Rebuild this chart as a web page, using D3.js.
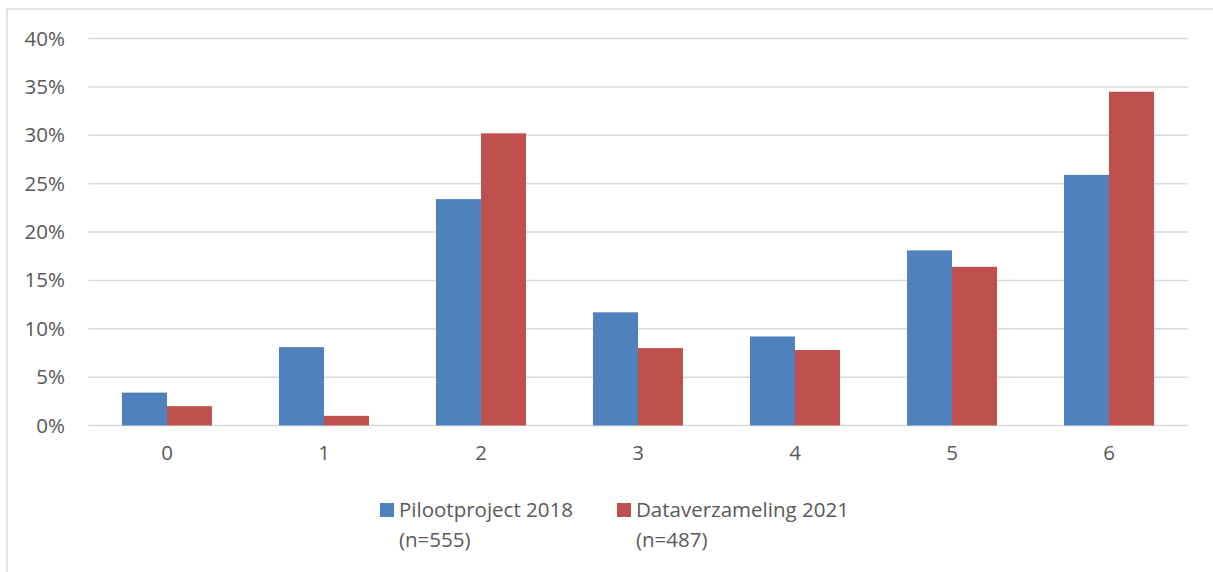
<!DOCTYPE html>
<html>
<head>
<meta charset="utf-8">
<script src="https://cdn.jsdelivr.net/npm/d3@7"></script>
<style>
  html, body { margin: 0; padding: 0; background: #fff; }
  svg { display: block; }
  text { font-family: "Open Sans", "Noto Sans", sans-serif; fill: #595959; }
</style>
</head>
<body>
<svg id="chart" width="1213" height="572"></svg>
<script>
// Categories on the x axis
const categories = ["0", "1", "2", "3", "4", "5", "6"];
// Share of respondents per category (percent)
const pilot2018 = [3.4, 8.1, 23.4, 11.7, 9.2, 18.1, 25.9];
const data2021 = [2.0, 1.0, 30.2, 8.0, 7.8, 16.4, 34.5];
const seriesNames = ["Pilootproject 2018", "Dataverzameling 2021"];
const seriesSub = ["(n=555)", "(n=487)"];
const seriesColors = ["#4F81BD", "#C0504D"];
const yTicks = [0, 5, 10, 15, 20, 25, 30, 35, 40];

const fontSize = 20.5;
const svg = d3.select("#chart");

// Outer frame
svg.append("rect")
  .attr("x", 7).attr("y", 9)
  .attr("width", 1220).attr("height", 580)
  .attr("fill", "none").attr("stroke", "#d9d9d9").attr("stroke-width", 1.5);

const plot = { left: 88.5, right: 1187.5, top: 38.5, bottom: 425.5 };

const x = d3.scaleBand()
  .domain(categories)
  .range([plot.left, plot.right])
  .paddingInner(0.427)
  .paddingOuter(0.2135);

const xSub = d3.scaleBand()
  .domain([0, 1])
  .range([0, x.bandwidth()]);

const y = d3.scaleLinear()
  .domain([0, 40])
  .range([plot.bottom, plot.top]);

// Horizontal gridlines
svg.append("g")
  .selectAll("line")
  .data(yTicks)
  .join("line")
  .attr("x1", plot.left).attr("x2", plot.right)
  .attr("y1", d => y(d)).attr("y2", d => y(d))
  .attr("stroke", "#d9d9d9").attr("stroke-width", 1.5);

// Y axis labels
const yAxis = d3.axisLeft(y)
  .tickValues(yTicks)
  .tickFormat(d => d + "%")
  .tickSize(0)
  .tickPadding(0);
const yg = svg.append("g")
  .attr("transform", `translate(65,0)`)
  .call(yAxis);
yg.select(".domain").remove();
yg.selectAll("text")
  .attr("font-size", fontSize)
  .attr("fill", "#595959")
  .attr("font-family", "'Open Sans', 'Noto Sans', sans-serif");

// Bars
const series = [pilot2018, data2021];
series.forEach((vals, si) => {
  svg.append("g")
    .selectAll("rect")
    .data(vals)
    .join("rect")
    .attr("x", (d, i) => x(categories[i]) + xSub(si))
    .attr("width", xSub.bandwidth())
    .attr("y", d => y(d))
    .attr("height", d => y(0) - y(d))
    .attr("fill", seriesColors[si]);
});

// X axis labels
const xAxis = d3.axisBottom(x).tickSize(0).tickPadding(0);
const xg = svg.append("g")
  .attr("transform", `translate(0,445)`)
  .call(xAxis);
xg.select(".domain").remove();
xg.selectAll("text")
  .attr("font-size", fontSize)
  .attr("fill", "#595959")
  .attr("font-family", "'Open Sans', 'Noto Sans', sans-serif");

// Legend
const legendX = [380, 617];
const legend = svg.append("g");
seriesNames.forEach((name, i) => {
  legend.append("rect")
    .attr("x", legendX[i]).attr("y", 503)
    .attr("width", 14).attr("height", 14)
    .attr("fill", seriesColors[i]);
  const t = legend.append("text")
    .attr("x", legendX[i] + 19).attr("y", 517)
    .attr("font-size", fontSize);
  t.append("tspan").text(name);
  t.append("tspan").attr("x", legendX[i] + 19).attr("dy", 30).text(seriesSub[i]);
});
</script>
</body>
</html>
